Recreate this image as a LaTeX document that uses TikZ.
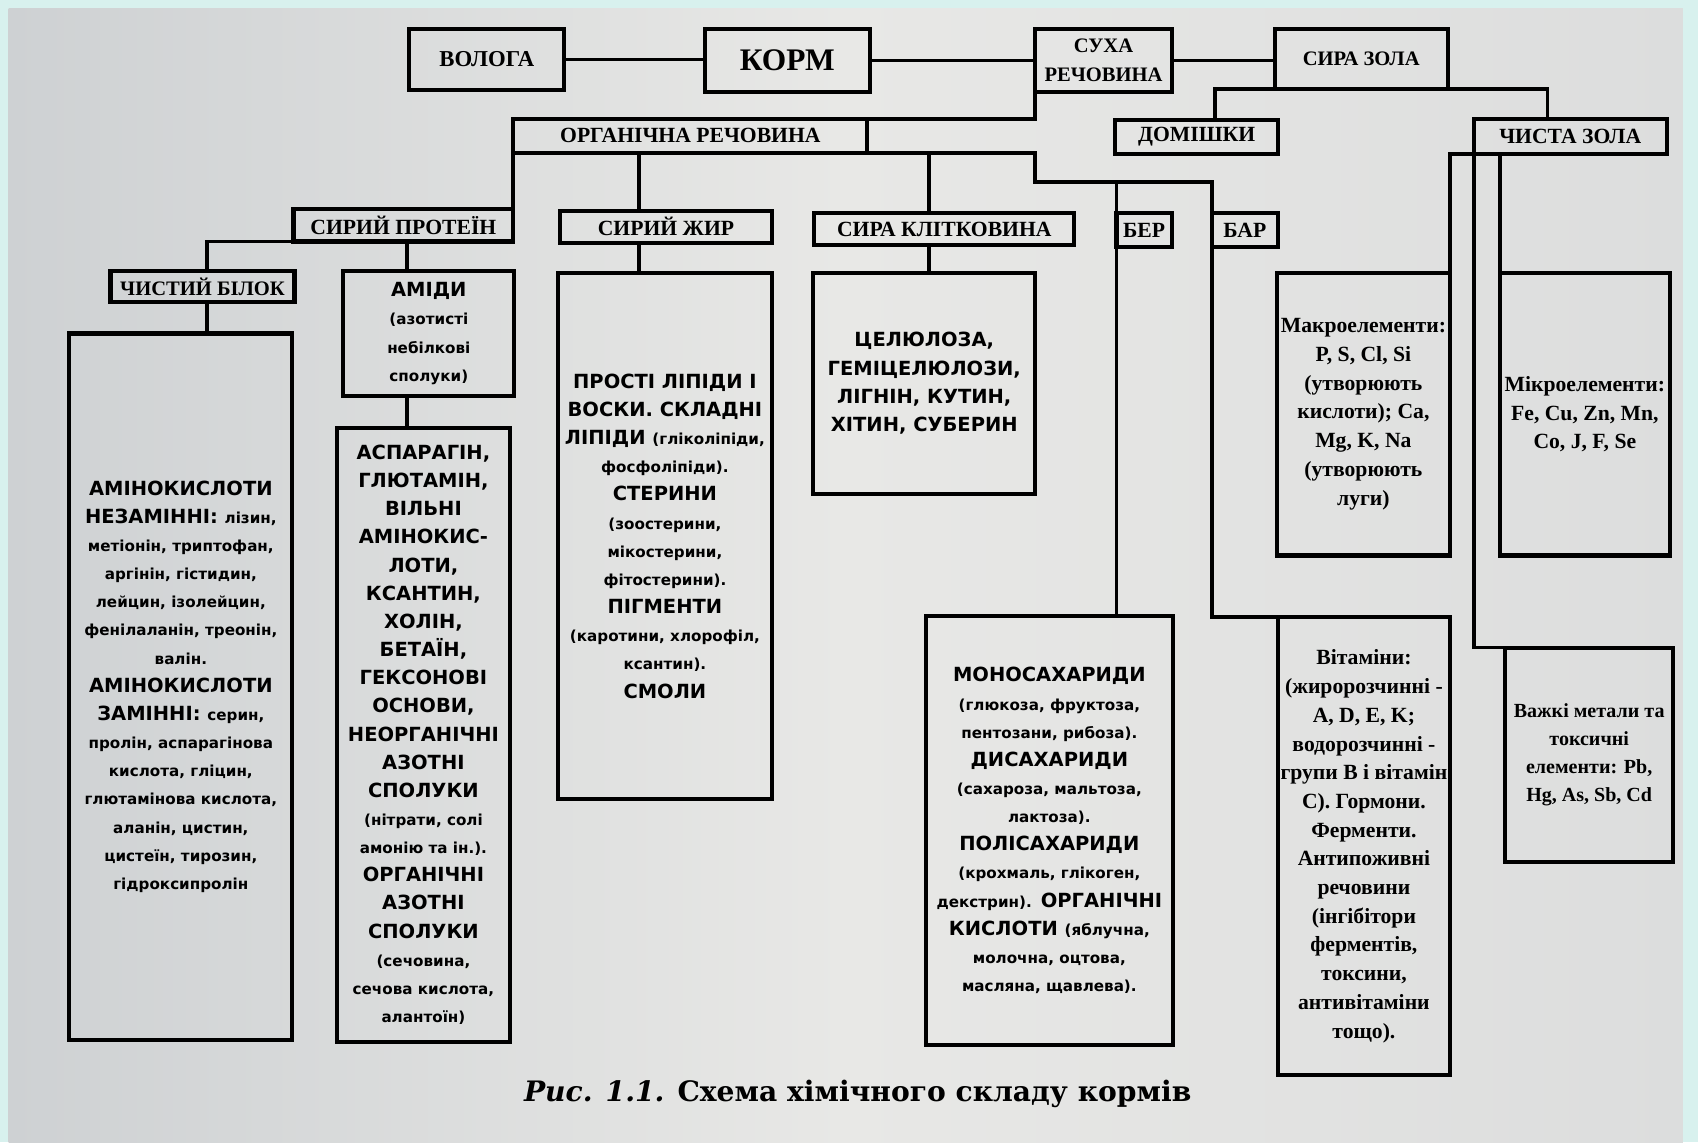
\documentclass[tikz,border=0pt]{standalone}
\usepackage{fontspec}
\setmainfont{Liberation Serif}
\newfontfamily\hdrf{Liberation Serif}
\newfontfamily\bdyf{DejaVu Sans}
\newfontfamily\capff{DejaVu Serif}
\newcommand\fH{\hdrf\bfseries\fontsize{20}{24}\selectfont}
\newcommand\fB{\bdyf\bfseries\fontsize{18}{26}\selectfont}
\newcommand\fL{\fontsize{14}{26}\selectfont}
\newcommand\fT{\hdrf\bfseries\fontsize{20}{26.5}\selectfont}
\definecolor{bgcyan}{HTML}{D8F1EE}
\definecolor{papL}{HTML}{CED1D3}
\definecolor{papM}{HTML}{E8E8E6}
\definecolor{papR}{HTML}{DCDDDD}
\tikzset{
  bx/.style={draw=black, line width=3.8pt, inner sep=0pt, outer sep=0pt, align=center, anchor=north west},
  hb/.style={bx, font=\fH},
  tb/.style={bx, font=\fB},
  rb/.style={bx, font=\fT},
  cn/.style={draw=black, line width=3.4pt, line join=miter, line cap=rect},
}
\begin{document}
\begin{tikzpicture}[x=1pt,y=-1pt]
\useasboundingbox (0,0) rectangle (1568,1055);
\fill[bgcyan] (0,0) rectangle (1568,1055);
\shade[left color=papL, right color=papR, middle color=papM] (8,8) rectangle (1554,1055);

% header boxes
\node[hb, minimum width=143pt, minimum height=56pt, font=\hdrf\bfseries\fontsize{21}{24}\selectfont] (vol) at (378,27) {ВОЛОГА};
\node[hb, minimum width=152pt, minimum height=58pt, font=\hdrf\bfseries\fontsize{29}{32}\selectfont] (korm) at (651,27) {КОРМ};
\node[hb, minimum width=126pt, minimum height=58pt, font=\hdrf\bfseries\fontsize{19}{27}\selectfont] (sukha) at (956,27) {СУХА\\РЕЧОВИНА};
\node[hb, minimum width=160pt, minimum height=55pt, font=\hdrf\bfseries\fontsize{19}{24}\selectfont] (zola) at (1177,27) {СИРА ЗОЛА};
\node[hb, minimum width=327pt, minimum height=31pt] (org) at (474,110) {ОРГАНІЧНА РЕЧОВИНА};
\node[hb, minimum width=150pt, minimum height=31pt] (dom) at (1030,111) {ДОМІШКИ};
\node[hb, minimum width=178pt, minimum height=32pt] (chz) at (1361,110) {ЧИСТА ЗОЛА};
\node[hb, minimum width=203pt, minimum height=30pt] (prot) at (271,193) {СИРИЙ ПРОТЕЇН};
\node[hb, minimum width=196pt, minimum height=29pt] (zhyr) at (517,195) {СИРИЙ ЖИР};
\node[hb, minimum width=240pt, minimum height=29pt] (klit) at (752,197) {СИРА КЛІТКОВИНА};
\node[hb, minimum width=51pt, minimum height=31pt] (ber) at (1031,197) {БЕР};
\node[hb, minimum width=61pt, minimum height=31pt] (bar) at (1119,197) {БАР};
\node[hb, minimum width=170pt, minimum height=29pt, font=\hdrf\bfseries\fontsize{19}{24}\selectfont] (bilok) at (102,250) {ЧИСТИЙ БІЛОК};

% text boxes
\node[tb, minimum width=206pt, minimum height=652pt] (amino) at (64,308) {АМІНОКИСЛОТИ\\НЕЗАМІННІ: {\fL лізин,}\\{\fL метіонін, триптофан,}\\{\fL аргінін, гістидин,}\\{\fL лейцин, ізолейцин,}\\{\fL фенілаланін, треонін,}\\{\fL валін.}\\АМІНОКИСЛОТИ\\ЗАМІННІ: {\fL серин,}\\{\fL пролін, аспарагінова}\\{\fL кислота, гліцин,}\\{\fL глютамінова кислота,}\\{\fL аланін, цистин,}\\{\fL цистеїн, тирозин,}\\{\fL гідроксипролін}};
\node[tb, minimum width=158pt, minimum height=116pt] (amidy) at (317,250) {АМІДИ\\{\fL(азотисті}\\{\fL небілкові}\\{\fL сполуки)}};
\node[tb, minimum width=160pt, minimum height=567pt] (asp) at (311,395) {АСПАРАГІН,\\ГЛЮТАМІН,\\ВІЛЬНІ\\АМІНОКИС-\\ЛОТИ,\\КСАНТИН,\\ХОЛІН,\\БЕТАЇН,\\ГЕКСОНОВІ\\ОСНОВИ,\\НЕОРГАНІЧНІ\\АЗОТНІ\\СПОЛУКИ\\{\fL(нітрати, солі}\\{\fL амонію та ін.).}\\ОРГАНІЧНІ\\АЗОТНІ\\СПОЛУКИ\\{\fL(сечовина,}\\{\fL сечова кислота,}\\{\fL алантоїн)}};
\node[tb, minimum width=198pt, minimum height=486pt] (lip) at (515,252) {ПРОСТІ ЛІПІДИ І\\ВОСКИ. СКЛАДНІ\\ЛІПІДИ {\fL(гліколіпіди,}\\{\fL фосфоліпіди).}\\СТЕРИНИ\\{\fL(зоостерини,}\\{\fL мікостерини,}\\{\fL фітостерини).}\\ПІГМЕНТИ\\{\fL(каротини, хлорофіл,}\\{\fL ксантин).}\\СМОЛИ};
\node[tb, minimum width=205pt, minimum height=204pt] (cel) at (751,252) {ЦЕЛЮЛОЗА,\\ГЕМІЦЕЛЮЛОЗИ,\\ЛІГНІН, КУТИН,\\ХІТИН, СУБЕРИН};
\node[tb, minimum width=228pt, minimum height=396pt] (mono) at (855,569) {МОНОСАХАРИДИ\\{\fL(глюкоза, фруктоза,}\\{\fL пентозани, рибоза).}\\ДИСАХАРИДИ\\{\fL(сахароза, мальтоза,}\\{\fL лактоза).}\\ПОЛІСАХАРИДИ\\{\fL(крохмаль, глікоген,}\\{\fL декстрин).} ОРГАНІЧНІ\\КИСЛОТИ {\fL(яблучна,}\\{\fL молочна, оцтова,}\\{\fL масляна, щавлева).}};
\node[rb, minimum width=160pt, minimum height=261pt] (macro) at (1179,252) {Макроелементи:\\P, S, Cl, Si\\(утворюють\\кислоти); Ca,\\Mg, K, Na\\(утворюють\\луги)};
\node[rb, minimum width=157pt, minimum height=261pt] (micro) at (1385,252) {Мікроелементи:\\Fe, Cu, Zn, Mn,\\Co, J, F, Se};
\node[rb, minimum width=159pt, minimum height=423pt] (vit) at (1180,570) {Вітаміни:\\(жиророзчинні -\\A, D, E, K;\\водорозчинні -\\групи В і вітамін\\С). Гормони.\\Ферменти.\\Антипоживні\\речовини\\(інгібітори\\ферментів,\\токсини,\\антивітаміни\\тощо).};
\node[rb, minimum width=155pt, minimum height=198pt, font=\hdrf\bfseries\fontsize{18.5}{26}\selectfont] (heavy) at (1390,598) {Важкі метали та\\токсичні\\елементи: Pb,\\Hg, As, Sb, Cd};

% caption
\node[font=\capff\bfseries\fontsize{26}{30}\selectfont, inner sep=0pt] (cap) at (792,1010) {\textit{Рис. 1.1.} Схема хімічного складу кормів};

% junction coordinates
\coordinate (j1) at (956,168);
\coordinate (xz) at (590,0);
\coordinate (xk) at (858,0);
\coordinate (xb) at (191,0);
\coordinate (xa) at (376,0);
\coordinate (xd) at (1122,0);
\coordinate (xc) at (1429,0);

% connectors
\draw[cn] (vol.east) -- (korm.west |- vol.east);
\draw[cn] (korm.east) -- (sukha.west |- korm.east);
\draw[cn] (sukha.east) -- (zola.west |- sukha.east);
\draw[cn] (sukha.south west) |- (org.north east);
\draw[cn] (org.south east) -| (j1) -| (bar.north west);
\draw[cn] (bar.south west) |- (vit.north west);
\draw[cn] (ber.north west |- j1) -- (ber.north west);
\draw[cn] (ber.south west) -- (ber.south west |- mono.north);
\draw[cn] (org.south west) -- (org.south west |- prot.north);
\draw[cn] (org.south -| xz) -- (zhyr.north -| xz);
\draw[cn] (zhyr.south -| xz) -- (lip.north -| xz);
\draw[cn] (org.south -| xk) -- (klit.north -| xk);
\draw[cn] (klit.south -| xk) -- (cel.north -| xk);
\draw[cn] (prot.south west) -| (bilok.north -| xb);
\draw[cn] (bilok.south -| xb) -- (amino.north -| xb);
\draw[cn] (prot.south -| xa) -- (amidy.north -| xa);
\draw[cn] (amidy.south -| xa) -- (asp.north -| xa);
\draw[cn] (dom.north -| xd) |- (zola.south -| xc) -- (chz.north -| xc);
\draw[cn] (chz.south west) -| (macro.north east);
\draw[cn] (chz.south -| micro.north west) -- (micro.north west);
\draw[cn] (chz.south west) |- (heavy.north west);
\end{tikzpicture}
\end{document}
